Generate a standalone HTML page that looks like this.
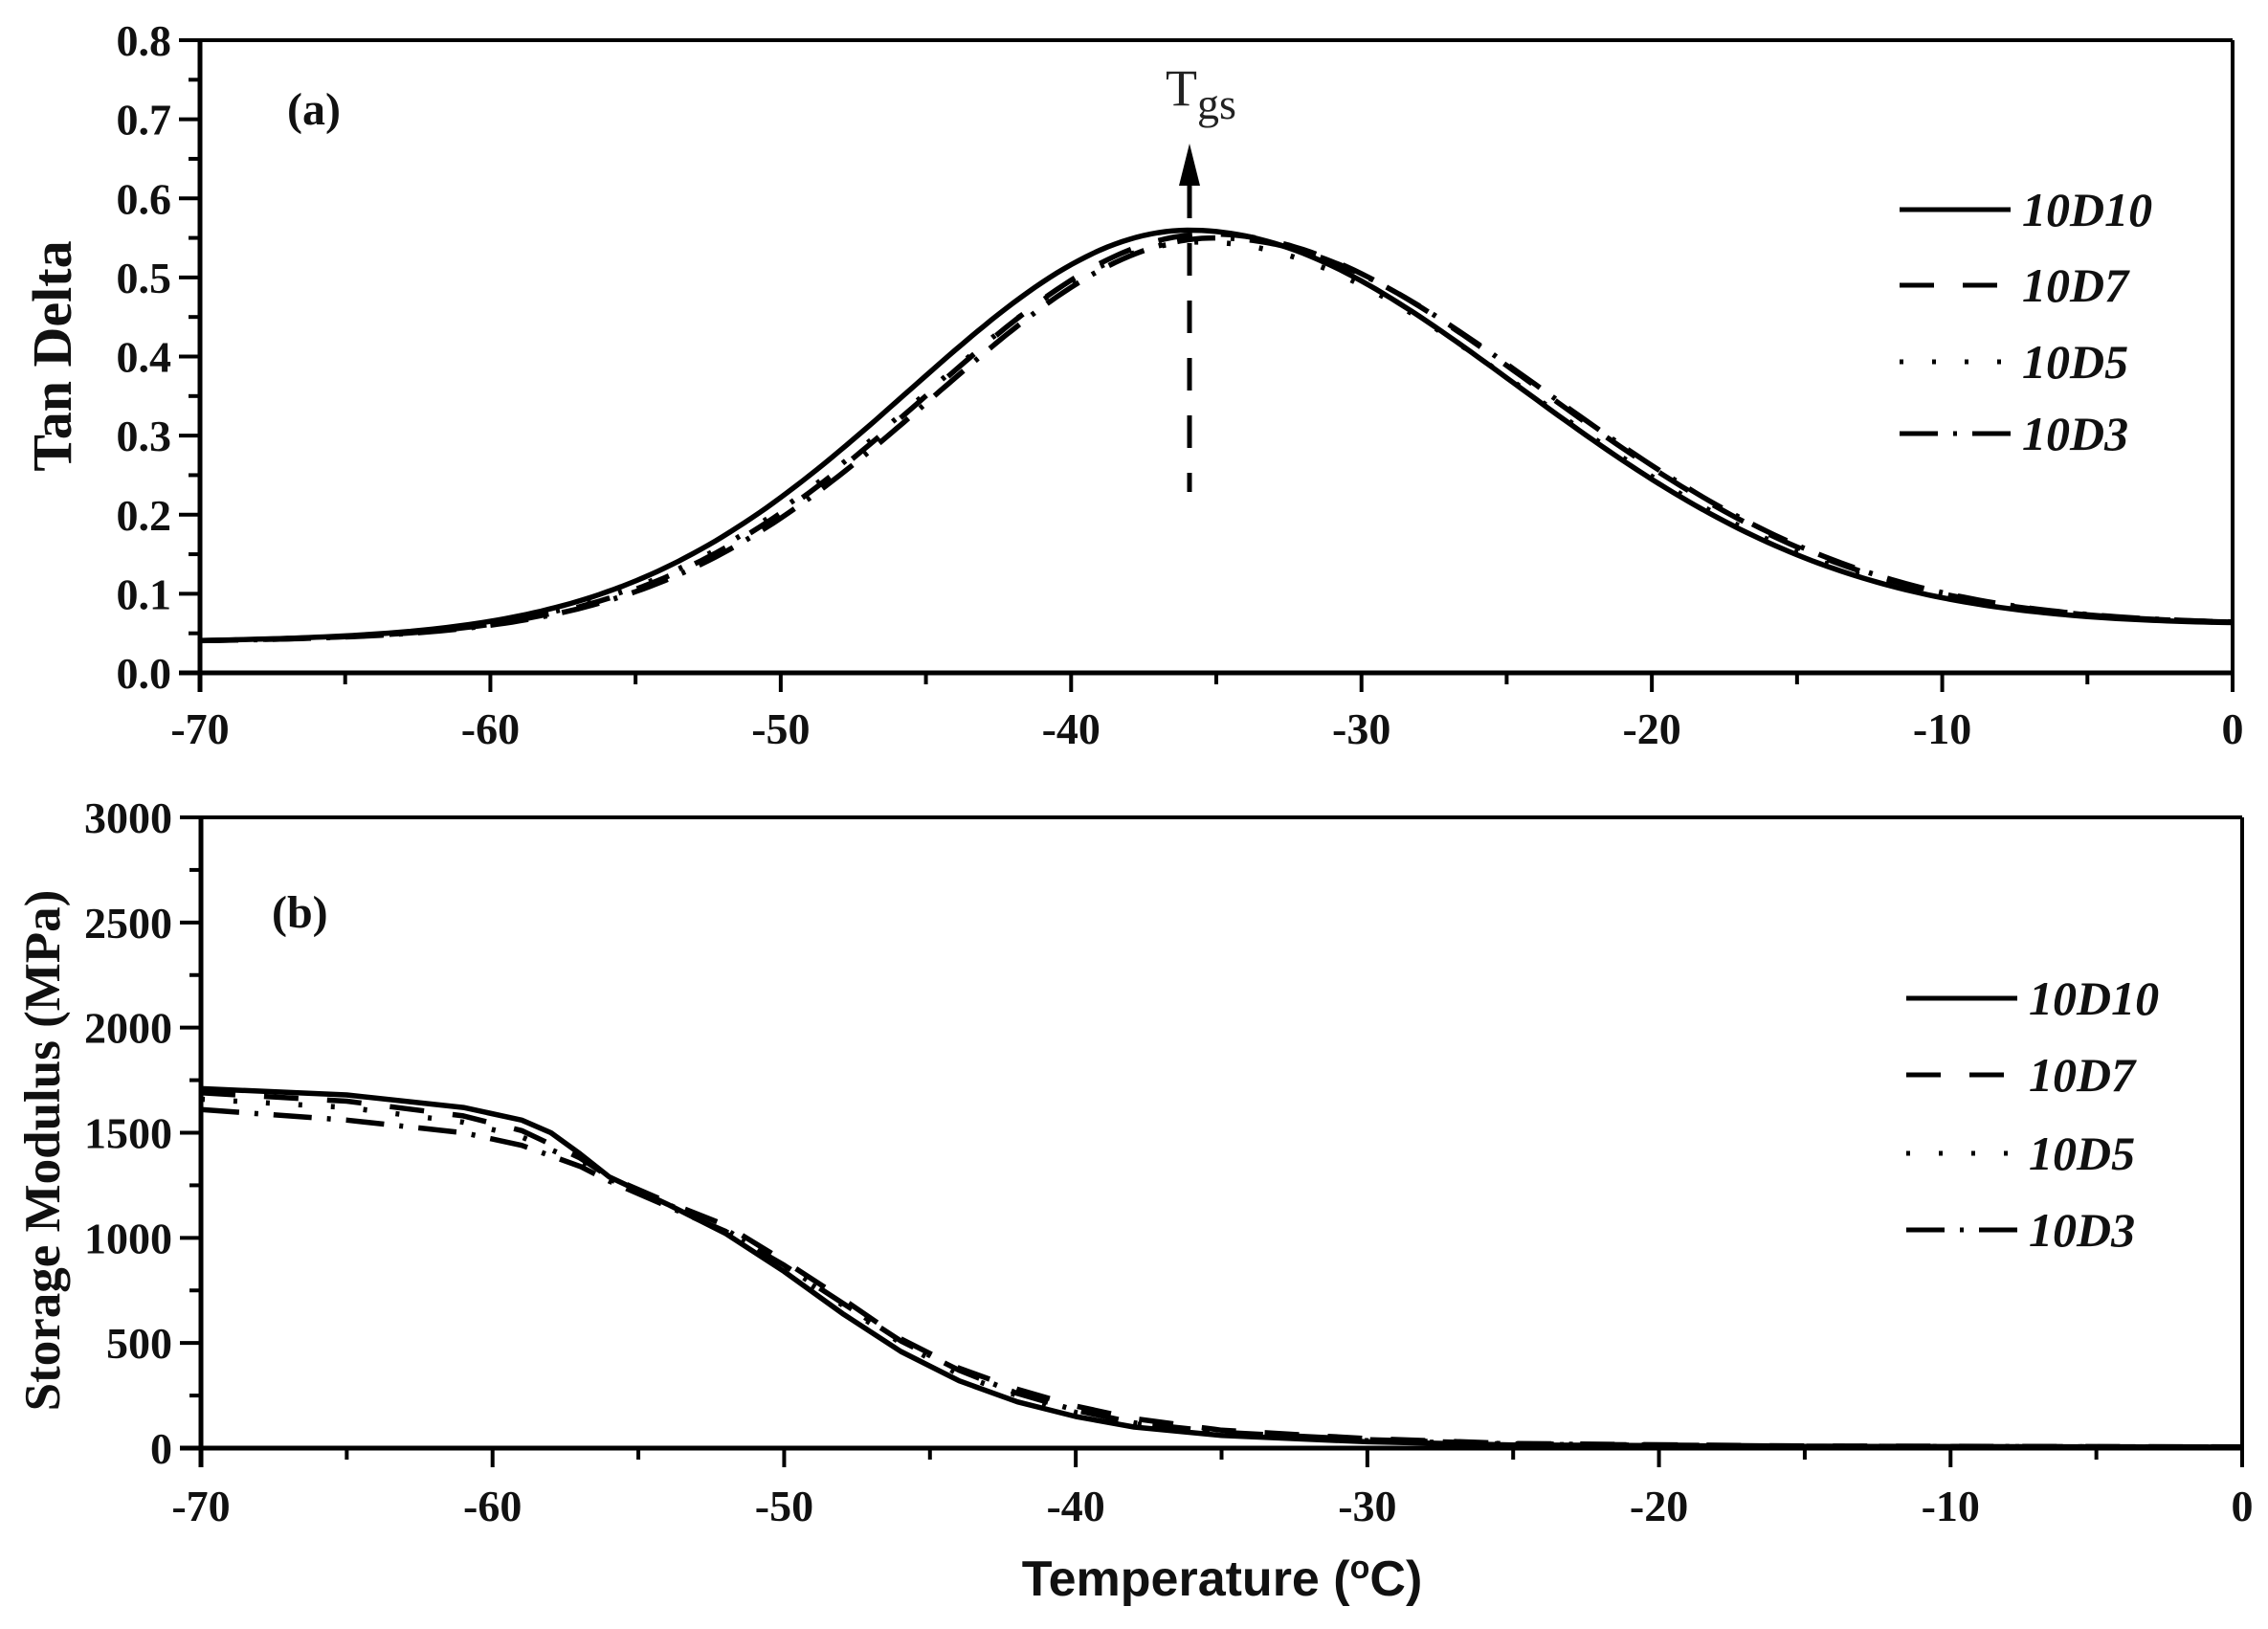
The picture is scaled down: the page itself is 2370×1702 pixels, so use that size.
<!DOCTYPE html>
<html><head><meta charset="utf-8"><style>
html,body{margin:0;padding:0;background:#fff;}
svg{display:block;}
.t{font-family:"Liberation Serif",serif;font-weight:bold;font-size:46px;fill:#111;}
.lg{font-family:"Liberation Serif",serif;font-weight:bold;font-style:italic;font-size:50px;fill:#111;}
</style></head><body>
<svg id="s" width="2370" height="1702" viewBox="0 0 2370 1702" xmlns="http://www.w3.org/2000/svg">
<g id="g" stroke="#000" fill="none" stroke-width="4"></g>
<g id="tx"></g>
<text x="300" y="130" class="t" style="font-size:48px">(a)</text>
<text x="284" y="969" class="t" style="font-size:48px">(b)</text>
<text x="1218" y="110" style="font-family:'Liberation Serif',serif;font-size:54px;fill:#222">T<tspan dy="14" font-size="46">gs</tspan></text>
<polygon points="1243,150 1232,194 1254,194" fill="#000"/>
<line x1="1243" y1="194" x2="1243" y2="514" stroke="#000" stroke-width="5" stroke-dasharray="34,26"/>
<text transform="translate(74,372) rotate(-90)" text-anchor="middle" class="t" style="font-size:58px">Tan Delta</text>
<text transform="translate(62,1202) rotate(-90)" text-anchor="middle" class="t" style="font-size:53px">Storage Modulus (MPa)</text>
<text x="1277" y="1667" text-anchor="middle" style="font-family:'Liberation Sans',sans-serif;font-weight:bold;font-size:52px;fill:#111">Temperature (<tspan dy="-18" font-size="34">o</tspan><tspan dy="18">C)</tspan></text>
</svg>
<script>
var g=document.getElementById('g'),tx=document.getElementById('tx'),NS='http://www.w3.org/2000/svg';
function el(p,tag,a,txt){var e=document.createElementNS(NS,tag);for(var k in a)e.setAttribute(k,a[k]);if(txt!=null)e.textContent=txt;p.appendChild(e);return e;}
function ln(x1,y1,x2,y2,w){el(g,'line',{x1:x1,y1:y1,x2:x2,y2:y2,'stroke-width':w||4});}
var dashes=[null,'36,30','4,30','40,16,4,16'];
var names=['10D10','10D7','10D5','10D3'];
function axes(L,R,T,B,ylab,labY){
 ln(L,T,L,B+20,5);ln(L-22,B,R,B,5);ln(L-22,T,R,T,4);ln(R,T,R,B+20,4);
 var n=ylab.length-1;
 for(var i=0;i<=n;i++){var y=B-(B-T)*i/n;ln(L-22,y,L,y,4);
  el(tx,'text',{x:L-30,y:y+16,'text-anchor':'end','class':'t'},ylab[i]);
  if(i<n){var ym=y-(B-T)/n/2;ln(L-12,ym,L,ym,4);}}
 for(var i=0;i<=7;i++){var x=L+(R-L)*i/7;ln(x,B,x,B+20,4);
  el(tx,'text',{x:x,y:labY,'text-anchor':'middle','class':'t'},i==7?'0':'-'+(70-10*i));
  if(i<7){var xm=x+(R-L)/14;ln(xm,B,xm,B+12,4);}}
}
var L1=209,R1=2333,T1=42,B1=703;
axes(L1,R1,T1,B1,['0.0','0.1','0.2','0.3','0.4','0.5','0.6','0.7','0.8'],777);
var L2=210,R2=2343,T2=854,B2=1513;
axes(L2,R2,T2,B2,['0','500','1000','1500','2000','2500','3000'],1589);
function tan(T,sh,A){var d=T-(-36+sh);var s=d<0?9.6:11.4;var b=0.04+0.02*(T+70)/70;return b+A*Math.exp(-d*d/(2*s*s));}
var tp=[[0,0.51],[0.7,0.505],[0.4,0.495],[0.9,0.50]];
for(var k=0;k<4;k++){var p='';for(var T=-70;T<=0.01;T+=0.25){var v=tan(T,tp[k][0],tp[k][1]);p+=(p?'L':'M')+(L1+(T+70)*(R1-L1)/70).toFixed(1)+','+(B1-v*(B1-T1)/0.8).toFixed(1);}
 var a={d:p,'stroke-width':5.5};if(dashes[k])a['stroke-dasharray']=dashes[k];el(g,'path',a);}
var pts=[
[[-70,1710],[-65,1680],[-61,1620],[-59,1560],[-58,1500],[-57,1400],[-56,1290],[-54,1160],[-52,1020],[-50,840],[-48,640],[-46,460],[-44,320],[-42,220],[-40,150],[-38,100],[-35,60],[-30,30],[-25,15],[-15,8],[0,5]],
[[-70,1690],[-65,1650],[-61,1580],[-59,1510],[-57,1380],[-56,1290],[-54,1170],[-52,1060],[-50,890],[-48,710],[-46,520],[-44,380],[-42,280],[-40,200],[-38,140],[-35,85],[-30,45],[-25,22],[-15,10],[0,6]],
[[-70,1660],[-65,1620],[-61,1550],[-59,1480],[-57,1360],[-56,1280],[-54,1160],[-52,1040],[-50,860],[-48,680],[-46,500],[-44,350],[-42,250],[-40,170],[-38,115],[-35,70],[-30,35],[-25,18],[-15,8],[0,5]],
[[-70,1610],[-65,1560],[-61,1500],[-59,1440],[-57,1340],[-56,1270],[-54,1150],[-52,1030],[-50,870],[-48,690],[-46,510],[-44,370],[-42,260],[-40,180],[-38,120],[-35,75],[-30,40],[-25,20],[-15,9],[0,5]]];
for(var k=0;k<4;k++){var p='';var q=pts[k];
 for(var i=0;i<q.length;i++){p+=(i?'L':'M')+(L2+(q[i][0]+70)*(R2-L2)/70).toFixed(1)+','+(B2-q[i][1]*(B2-T2)/3000).toFixed(1);}
 var a={d:p,'stroke-width':5.5,'stroke-linejoin':'round'};if(dashes[k])a['stroke-dasharray']=dashes[k];el(g,'path',a);}
function legend(x1,x2,tx0,ys){for(var k=0;k<4;k++){var a={x1:x1,y1:ys[k],x2:x2,y2:ys[k],'stroke-width':5};if(dashes[k])a['stroke-dasharray']=dashes[k];el(g,'line',a);
 el(tx,'text',{x:tx0,y:ys[k]+17,'class':'lg'},names[k]);}}
legend(1985,2101,2113,[219,298,378,453]);
legend(1992,2108,2120,[1043,1123,1205,1285]);
</script>
</body></html>
